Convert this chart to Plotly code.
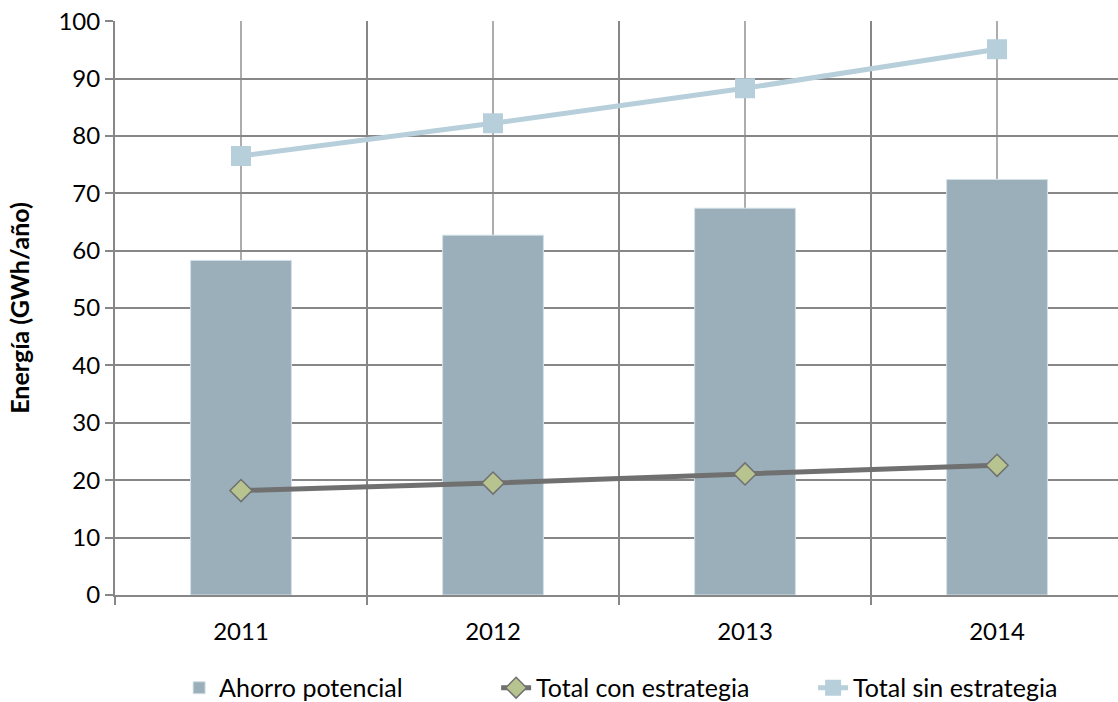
import plotly.graph_objects as go

years = ["2011", "2012", "2013", "2014"]
ahorro_potencial = [58.3, 62.7, 67.4, 72.4]
total_con_estrategia = [18.2, 19.5, 21.1, 22.6]
total_sin_estrategia = [76.5, 82.2, 88.3, 95.1]

xpos = list(range(len(years)))
FONT = "Lato"

fig = go.Figure()
fig.add_trace(go.Bar(
    x=xpos, y=ahorro_potencial, name="Ahorro potencial", width=0.4,
    marker=dict(color="#9AAFBA", line=dict(color="#D3E0E7", width=1)),
))
fig.add_trace(go.Scatter(
    x=xpos, y=total_con_estrategia, name="Total con estrategia", mode="lines+markers",
    line=dict(color="#707070", width=5),
    marker=dict(symbol="diamond", size=17, color="#B8C490", line=dict(color="#707070", width=1.5)),
))
fig.add_trace(go.Scatter(
    x=xpos, y=total_sin_estrategia, name="Total sin estrategia", mode="lines+markers",
    line=dict(color="#B7CFDB", width=5),
    marker=dict(symbol="square", size=20, color="#B7CFDB"),
))

fig.update_layout(
    width=1118, height=702,
    margin=dict(l=115, r=0, t=21, b=107, autoexpand=False),
    plot_bgcolor="white", paper_bgcolor="white",
    font=dict(family=FONT, size=24, color="#000000"),
    showlegend=True,
    legend=dict(orientation="h", x=0.538, xanchor="center", y=-0.162, yanchor="middle",
                font=dict(size=25), entrywidth=272, entrywidthmode="pixels",
                traceorder="normal"),
    bargap=0.6,
)
fig.update_xaxes(
    range=[-0.5, 3.48], automargin=False,
    tickvals=xpos, ticktext=years,
    showgrid=True, gridcolor="#ADADAD", gridwidth=2,
    ticks="", ticklabelstandoff=14, ticklabeloverflow="allow",
    showline=True, linecolor="#878787", linewidth=2,
    zeroline=False,
    minor=dict(tick0=-0.5, dtick=1, showgrid=True, gridcolor="#878787", gridwidth=2,
               ticks="outside", ticklen=8, tickcolor="#878787", tickwidth=2),
)
fig.update_yaxes(
    range=[0, 100.02], dtick=10, automargin=False,
    showgrid=True, gridcolor="#878787", gridwidth=2,
    ticks="outside", ticklen=8, tickcolor="#878787", tickwidth=2,
    ticklabeloverflow="allow",
    showline=True, linecolor="#878787", linewidth=2,
    zeroline=False,
    title=dict(text="<b>Energía (GWh/año)</b>", font=dict(size=25), standoff=22),
)

# remove the default 8px page margin so the figure fills the window exactly
fig.write_html("out.html", config={"displayModeBar": False},
               post_script="document.body.style.margin='0';")
